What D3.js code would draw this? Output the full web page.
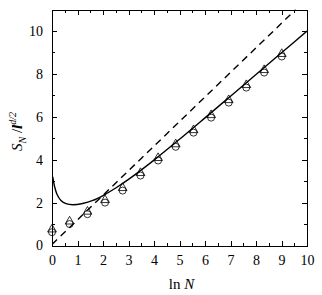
<!DOCTYPE html>
<html lang="en">
<head>
<meta charset="UTF-8">
<title>S_N vs ln N</title>
<style>
  body { margin: 0; background: #fff; }
  svg { display: block; }
  .axis text { font-family: "Liberation Serif", "DejaVu Serif", serif; font-size: 14px; fill: #000; }
  .axis path, .axis line { stroke: #000; stroke-width: 1px; fill: none; shape-rendering: crispEdges; }
  .label { font-family: "Liberation Serif", "DejaVu Serif", serif; font-size: 15px; fill: #000; }
</style>
<script src="https://d3js.org/d3.v7.min.js"></script>
</head>
<body>
<div id="chart"></div>
<script>
// ln N for N = 1, 2, 4, ... 8192
const lnN = [0, 0.69, 1.39, 2.08, 2.77, 3.47, 4.16, 4.85, 5.55, 6.24, 6.93, 7.62, 8.32, 9.01];
const triVals = [0.75, 1.12, 1.58, 2.12, 2.68, 3.38, 4.08, 4.72, 5.38, 6.08, 6.78, 7.48, 8.18, 8.93];
const circVals = [0.62, 1.0, 1.46, 2.0, 2.56, 3.26, 3.96, 4.6, 5.26, 5.96, 6.66, 7.36, 8.06, 8.81];

// solid curve (theory)
const curveX = [0.03, 0.1, 0.2, 0.35, 0.55, 0.82, 1.2, 1.6, 2.0, 2.5, 3.0, 4.0, 5.0, 6.0, 7.0, 8.0, 9.0, 10.0];
const curveY = [3.2, 2.75, 2.38, 2.1, 1.95, 1.9, 1.96, 2.1, 2.33, 2.68, 3.08, 3.98, 4.95, 5.95, 6.96, 7.97, 8.98, 10.0];

// dashed asymptote
const dashX = [0, 9.56];
const dashY = [0.05, 11];

const xTicks = d3.range(0, 11, 1);
const yTicks = [0, 2, 4, 6, 8, 10];

const width = 322, height = 295;
const margin = { top: 9.5, right: 15, bottom: 49.5, left: 52 };

const svg = d3.select("#chart").append("svg")
  .attr("width", width)
  .attr("height", height);

const x = d3.scaleLinear().domain([0, 10]).range([margin.left, width - margin.right]);
const y = d3.scaleLinear().domain([0, 11]).range([height - margin.bottom, margin.top]);

// minor ticks
const xMinor = d3.range(0.5, 10, 1);
const yMinor = d3.range(1, 11, 2);

function addAxis(axis, tx, ty, labels) {
  const g = svg.append("g").attr("class", "axis")
    .attr("transform", `translate(${tx},${ty})`)
    .call(axis);
  if (!labels) g.selectAll("text").remove();
  return g;
}

// bottom
addAxis(d3.axisBottom(x).tickValues(xTicks).tickSize(-5).tickPadding(10).tickFormat(d3.format("d")), 0, y(0), true);
addAxis(d3.axisBottom(x).tickValues(xMinor).tickSize(-3), 0, y(0), false).select(".domain").remove();
// top
addAxis(d3.axisTop(x).tickValues(xTicks).tickSize(-5), 0, y(11), false);
addAxis(d3.axisTop(x).tickValues(xMinor).tickSize(-3), 0, y(11), false).select(".domain").remove();
// left
addAxis(d3.axisLeft(y).tickValues(yTicks).tickSize(-5).tickPadding(9).tickFormat(d3.format("d")), x(0), 0, true);
addAxis(d3.axisLeft(y).tickValues(yMinor).tickSize(-3), x(0), 0, false).select(".domain").remove();
// right
addAxis(d3.axisRight(y).tickValues(yTicks).tickSize(-5), x(10), 0, false);
addAxis(d3.axisRight(y).tickValues(yMinor).tickSize(-3), x(10), 0, false).select(".domain").remove();

svg.append("clipPath").attr("id", "clip")
  .append("rect")
  .attr("x", x(0)).attr("y", y(11))
  .attr("width", x(10) - x(0)).attr("height", y(0) - y(11));

const plot = svg.append("g").attr("clip-path", "url(#clip)");

const line = d3.line().x(d => x(d[0])).y(d => y(d[1]));

plot.append("path")
  .datum(d3.zip(dashX, dashY))
  .attr("d", line)
  .attr("fill", "none")
  .attr("stroke", "#000")
  .attr("stroke-width", 1.4)
  .attr("stroke-dasharray", "7,5");

plot.append("path")
  .datum(d3.zip(curveX, curveY))
  .attr("d", line.curve(d3.curveCatmullRom))
  .attr("fill", "none")
  .attr("stroke", "#000")
  .attr("stroke-width", 1.4);

// markers
const tri = d3.symbol().type(d3.symbolTriangle).size(34);
svg.append("g").selectAll("path")
  .data(d3.zip(lnN, triVals))
  .join("path")
  .attr("transform", d => `translate(${x(d[0])},${y(d[1])})`)
  .attr("d", tri)
  .attr("fill", "none")
  .attr("stroke", "#000")
  .attr("stroke-width", 0.8);

svg.append("g").selectAll("circle")
  .data(d3.zip(lnN, circVals))
  .join("circle")
  .attr("cx", d => x(d[0]))
  .attr("cy", d => y(d[1]))
  .attr("r", 3.5)
  .attr("fill", "none")
  .attr("stroke", "#000")
  .attr("stroke-width", 0.8);

// axis labels
const xl = svg.append("text").attr("class", "label")
  .attr("x", (x(0) + x(10)) / 2 + 2)
  .attr("y", 289)
  .attr("text-anchor", "middle");
xl.append("tspan").text("ln ");
xl.append("tspan").attr("font-style", "italic").text("N");

const yl = svg.append("text").attr("class", "label")
  .attr("transform", `translate(22,${(y(0) + y(11)) / 2 + 4}) rotate(-90)`)
  .attr("text-anchor", "middle");
yl.append("tspan").attr("font-style", "italic").text("S");
yl.append("tspan").attr("font-style", "italic").attr("font-size", "10px").attr("dy", 4).text("N");
yl.append("tspan").attr("dy", -4).text(" /");
yl.append("tspan").attr("font-style", "italic").attr("font-weight", "bold").text("l");
yl.append("tspan").attr("font-style", "italic").attr("font-size", "10px").attr("dy", -6).text("d/2");
</script>
</body>
</html>
